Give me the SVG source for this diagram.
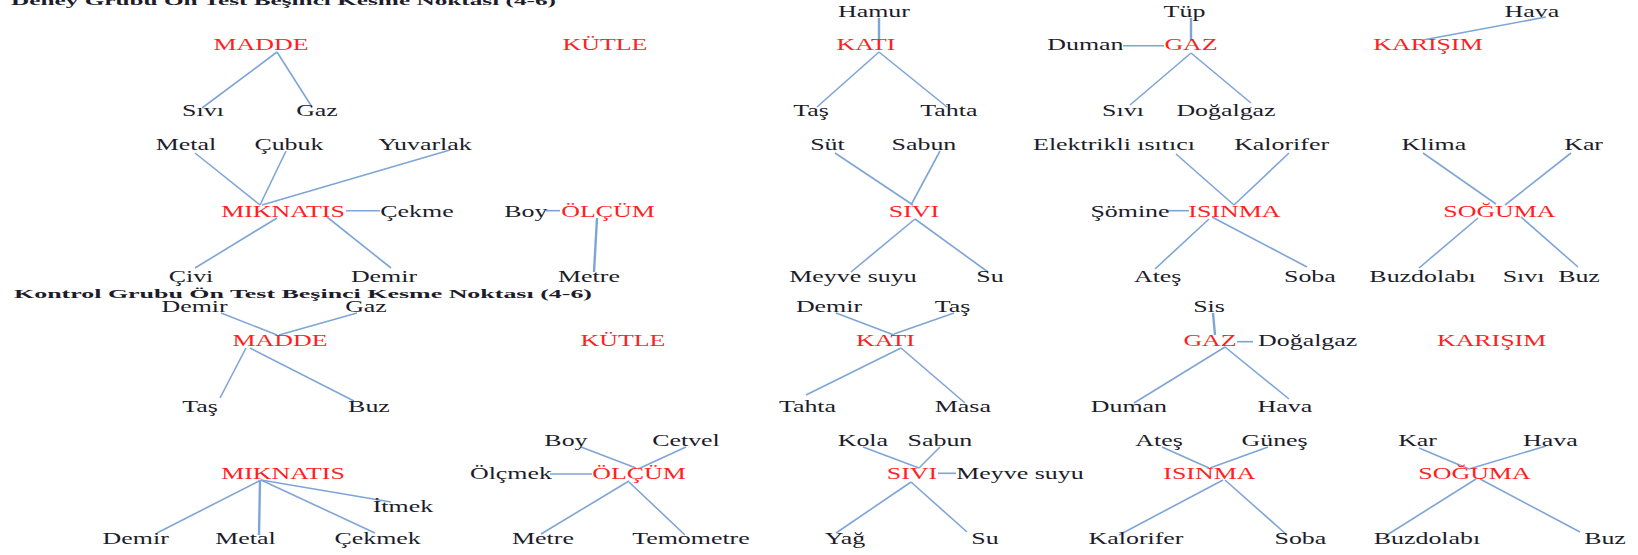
<svg xmlns="http://www.w3.org/2000/svg" width="1638" height="555" viewBox="0 0 1638 555">
  <style>
    text { font-family: "Liberation Serif", "Times New Roman", serif; font-size: 16px; text-anchor: middle; transform-box: fill-box; transform-origin: center; transform: scaleX(1.62); }
    .c { fill: #ff1f1f; }
    .t { fill: #1c1c2a; }
    .h { font-weight: bold; font-size: 12.8px; text-anchor: start; transform: none; fill: #1c1c2a; }
    #links line { stroke: #7ea5d6; stroke-width: 1.6; fill: none; }
    #links line.v { stroke-width: 2.4; }
  </style>
  <rect width="1638" height="555" fill="#ffffff"/>

  <!-- headings -->
  <g id="heading-deney"><text class="h" x="11" y="4.5" textLength="545" lengthAdjust="spacingAndGlyphs">Deney Grubu Ön Test Beşinci Kesme Noktası (4-6)</text></g>
  <g id="heading-kontrol"><text class="h" x="14" y="297.5" textLength="578" lengthAdjust="spacingAndGlyphs">Kontrol Grubu Ön Test Beşinci Kesme Noktası (4-6)</text></g>

  <g id="links">
    <!-- Deney: MADDE -->
    <line x1="277" y1="52" x2="202" y2="108"/>
    <line x1="277" y1="52" x2="312" y2="107"/>
    <!-- Deney: KATI -->
    <line class="v" x1="879" y1="18" x2="879" y2="41"/>
    <line x1="879" y1="52" x2="817" y2="107"/>
    <line x1="879" y1="52" x2="947" y2="107"/>
    <!-- Deney: GAZ -->
    <line x1="1123" y1="45.7" x2="1164" y2="45.7"/>
    <line class="v" x1="1191" y1="18" x2="1191" y2="41"/>
    <line x1="1191" y1="53" x2="1130" y2="105"/>
    <line x1="1191" y1="53" x2="1251" y2="103"/>
    <!-- Deney: KARIŞIM -->
    <line x1="1423" y1="40" x2="1546" y2="17"/>
    <!-- Deney: MIKNATIS -->
    <line x1="260" y1="205" x2="195" y2="153"/>
    <line x1="260" y1="205" x2="286" y2="151"/>
    <line x1="262" y1="205" x2="450" y2="150"/>
    <line x1="346" y1="210.7" x2="380" y2="210.7"/>
    <line x1="277" y1="218" x2="195" y2="268"/>
    <line x1="327" y1="217" x2="391" y2="268"/>
    <!-- Deney: ÖLÇÜM -->
    <line x1="546" y1="210.7" x2="560" y2="210.7"/>
    <line class="v" x1="597" y1="218" x2="594" y2="272"/>
    <!-- Deney: SIVI -->
    <line x1="913" y1="205" x2="835" y2="153"/>
    <line x1="911" y1="205" x2="940" y2="151"/>
    <line x1="915" y1="219" x2="851" y2="272"/>
    <line x1="915" y1="219" x2="988" y2="272"/>
    <!-- Deney: ISINMA -->
    <line x1="1234" y1="205" x2="1176" y2="154"/>
    <line x1="1234" y1="205" x2="1289" y2="153"/>
    <line x1="1166" y1="210.7" x2="1189" y2="210.7"/>
    <line x1="1209" y1="219" x2="1155" y2="269"/>
    <line x1="1212" y1="217" x2="1307" y2="267"/>
    <!-- Deney: SOĞUMA -->
    <line x1="1496" y1="204" x2="1423" y2="153"/>
    <line x1="1505" y1="205" x2="1571" y2="153"/>
    <line x1="1478" y1="218" x2="1419" y2="268"/>
    <line x1="1521" y1="217" x2="1578" y2="267"/>

    <!-- Kontrol: MADDE -->
    <line x1="277" y1="335" x2="221" y2="313"/>
    <line x1="279" y1="335" x2="357" y2="313"/>
    <line x1="246" y1="348" x2="220" y2="398"/>
    <line x1="250" y1="348" x2="354" y2="401"/>
    <!-- Kontrol: KATI -->
    <line x1="894" y1="335" x2="836" y2="313"/>
    <line x1="894" y1="334" x2="954" y2="313"/>
    <line x1="901" y1="348" x2="806" y2="395"/>
    <line x1="901" y1="348" x2="965" y2="403"/>
    <!-- Kontrol: GAZ -->
    <line class="v" x1="1213" y1="313" x2="1215" y2="335"/>
    <line x1="1237" y1="341.7" x2="1253" y2="341.7"/>
    <line x1="1225" y1="347" x2="1134" y2="403"/>
    <line x1="1225" y1="347" x2="1289" y2="399"/>
    <!-- Kontrol: MIKNATIS -->
    <line x1="261" y1="480" x2="157" y2="533"/>
    <line class="v" x1="260" y1="480" x2="259" y2="535"/>
    <line x1="261" y1="480" x2="375" y2="533"/>
    <line x1="261" y1="480" x2="391" y2="502"/>
    <!-- Kontrol: ÖLÇÜM -->
    <line x1="550" y1="474" x2="592" y2="474"/>
    <line x1="636" y1="468" x2="581" y2="447"/>
    <line x1="638" y1="469" x2="686" y2="447"/>
    <line x1="629" y1="481" x2="541" y2="534"/>
    <line x1="629" y1="482" x2="685" y2="535"/>
    <!-- Kontrol: SIVI -->
    <line x1="919" y1="468" x2="863" y2="447"/>
    <line x1="919" y1="468" x2="940" y2="447"/>
    <line x1="938" y1="473.3" x2="956" y2="473.3"/>
    <line x1="911" y1="482" x2="836" y2="533"/>
    <line x1="911" y1="482" x2="967" y2="532"/>
    <!-- Kontrol: ISINMA -->
    <line x1="1209" y1="468" x2="1162" y2="447"/>
    <line x1="1210" y1="468" x2="1268" y2="447"/>
    <line x1="1223" y1="480" x2="1119" y2="535"/>
    <line x1="1225" y1="480" x2="1287" y2="535"/>
    <!-- Kontrol: SOĞUMA -->
    <line x1="1469" y1="469" x2="1419" y2="448"/>
    <line x1="1469" y1="469" x2="1546" y2="446"/>
    <line x1="1476" y1="479" x2="1387" y2="535"/>
    <line x1="1480" y1="479" x2="1580" y2="532"/>
  </g>

  <!-- Deney group nodes -->
  <g id="d-madde"><text class="c" x="261" y="50.5">MADDE</text></g>
  <g id="d-madde-sivi"><text class="t" x="203" y="116">Sıvı</text></g>
  <g id="d-madde-gaz"><text class="t" x="317" y="116">Gaz</text></g>

  <g id="d-kutle"><text class="c" x="605" y="50.5">KÜTLE</text></g>

  <g id="d-kati"><text class="c" x="866" y="50.5">KATI</text></g>
  <g id="d-kati-hamur"><text class="t" x="874" y="17.3">Hamur</text></g>
  <g id="d-kati-tas"><text class="t" x="811" y="116">Taş</text></g>
  <g id="d-kati-tahta"><text class="t" x="949" y="116">Tahta</text></g>

  <g id="d-gaz"><text class="c" x="1191" y="50.5">GAZ</text></g>
  <g id="d-gaz-tup"><text class="t" x="1184.5" y="17.3">Tüp</text></g>
  <g id="d-gaz-duman"><text class="t" x="1085.5" y="50.5">Duman</text></g>
  <g id="d-gaz-sivi"><text class="t" x="1123" y="116">Sıvı</text></g>
  <g id="d-gaz-dogalgaz"><text class="t" x="1226" y="116">Doğalgaz</text></g>

  <g id="d-karisim"><text class="c" x="1428" y="50.5">KARIŞIM</text></g>
  <g id="d-karisim-hava"><text class="t" x="1532" y="17.3">Hava</text></g>

  <g id="d-miknatis"><text class="c" x="283" y="216.7">MIKNATIS</text></g>
  <g id="d-miknatis-metal"><text class="t" x="186" y="150">Metal</text></g>
  <g id="d-miknatis-cubuk"><text class="t" x="289" y="150">Çubuk</text></g>
  <g id="d-miknatis-yuvarlak"><text class="t" x="425" y="150">Yuvarlak</text></g>
  <g id="d-miknatis-cekme"><text class="t" x="417" y="216.7">Çekme</text></g>
  <g id="d-miknatis-civi"><text class="t" x="191" y="282">Çivi</text></g>
  <g id="d-miknatis-demir"><text class="t" x="384" y="282">Demir</text></g>

  <g id="d-olcum"><text class="c" x="608" y="216.7">ÖLÇÜM</text></g>
  <g id="d-olcum-boy"><text class="t" x="526" y="216.7">Boy</text></g>
  <g id="d-olcum-metre"><text class="t" x="589" y="282">Metre</text></g>

  <g id="d-sivi"><text class="c" x="914" y="216.7">SIVI</text></g>
  <g id="d-sivi-sut"><text class="t" x="827.5" y="150">Süt</text></g>
  <g id="d-sivi-sabun"><text class="t" x="924" y="150">Sabun</text></g>
  <g id="d-sivi-meyve"><text class="t" x="853" y="282">Meyve suyu</text></g>
  <g id="d-sivi-su"><text class="t" x="990" y="282">Su</text></g>

  <g id="d-isinma"><text class="c" x="1234.5" y="216.7">ISINMA</text></g>
  <g id="d-isinma-elektrikli"><text class="t" x="1114" y="150">Elektrikli ısıtıcı</text></g>
  <g id="d-isinma-kalorifer"><text class="t" x="1281.6" y="150">Kalorifer</text></g>
  <g id="d-isinma-somine"><text class="t" x="1130" y="216.7">Şömine</text></g>
  <g id="d-isinma-ates"><text class="t" x="1157.7" y="282">Ateş</text></g>
  <g id="d-isinma-soba"><text class="t" x="1310" y="282">Soba</text></g>

  <g id="d-soguma"><text class="c" x="1499.5" y="216.7">SOĞUMA</text></g>
  <g id="d-soguma-klima"><text class="t" x="1434" y="150">Klima</text></g>
  <g id="d-soguma-kar"><text class="t" x="1583.6" y="150">Kar</text></g>
  <g id="d-soguma-buzdolabi"><text class="t" x="1422.6" y="282">Buzdolabı</text></g>
  <g id="d-soguma-sivi"><text class="t" x="1523.6" y="282">Sıvı</text></g>
  <g id="d-soguma-buz"><text class="t" x="1579" y="282">Buz</text></g>

  <!-- Kontrol group nodes -->
  <g id="k-madde"><text class="c" x="280" y="345.7">MADDE</text></g>
  <g id="k-madde-demir"><text class="t" x="194.6" y="312.3">Demir</text></g>
  <g id="k-madde-gaz"><text class="t" x="366" y="312.3">Gaz</text></g>
  <g id="k-madde-tas"><text class="t" x="200" y="411.7">Taş</text></g>
  <g id="k-madde-buz"><text class="t" x="369" y="411.7">Buz</text></g>

  <g id="k-kutle"><text class="c" x="623" y="345.7">KÜTLE</text></g>

  <g id="k-kati"><text class="c" x="885.5" y="345.7">KATI</text></g>
  <g id="k-kati-demir"><text class="t" x="829" y="312.3">Demir</text></g>
  <g id="k-kati-tas"><text class="t" x="952.5" y="312.3">Taş</text></g>
  <g id="k-kati-tahta"><text class="t" x="807.6" y="411.7">Tahta</text></g>
  <g id="k-kati-masa"><text class="t" x="963" y="411.7">Masa</text></g>

  <g id="k-gaz"><text class="c" x="1210" y="345.7">GAZ</text></g>
  <g id="k-gaz-sis"><text class="t" x="1209" y="312.3">Sis</text></g>
  <g id="k-gaz-dogalgaz"><text class="t" x="1307.7" y="345.7">Doğalgaz</text></g>
  <g id="k-gaz-duman"><text class="t" x="1129" y="411.7">Duman</text></g>
  <g id="k-gaz-hava"><text class="t" x="1285" y="411.7">Hava</text></g>

  <g id="k-karisim"><text class="c" x="1491.6" y="345.7">KARIŞIM</text></g>

  <g id="k-miknatis"><text class="c" x="283" y="479.3">MIKNATIS</text></g>
  <g id="k-miknatis-itmek"><text class="t" x="403" y="511.7">İtmek</text></g>
  <g id="k-miknatis-demir"><text class="t" x="135.7" y="544">Demir</text></g>
  <g id="k-miknatis-metal"><text class="t" x="245.5" y="544">Metal</text></g>
  <g id="k-miknatis-cekmek"><text class="t" x="377.7" y="544">Çekmek</text></g>

  <g id="k-olcum"><text class="c" x="639" y="479.3">ÖLÇÜM</text></g>
  <g id="k-olcum-olcmek"><text class="t" x="511" y="479.3">Ölçmek</text></g>
  <g id="k-olcum-boy"><text class="t" x="566" y="446">Boy</text></g>
  <g id="k-olcum-cetvel"><text class="t" x="686" y="446">Cetvel</text></g>
  <g id="k-olcum-metre"><text class="t" x="543" y="544">Metre</text></g>
  <g id="k-olcum-temometre"><text class="t" x="691" y="544">Temometre</text></g>

  <g id="k-sivi"><text class="c" x="912" y="479.3">SIVI</text></g>
  <g id="k-sivi-kola"><text class="t" x="863" y="446">Kola</text></g>
  <g id="k-sivi-sabun"><text class="t" x="940" y="446">Sabun</text></g>
  <g id="k-sivi-meyve"><text class="t" x="1020" y="479.3">Meyve suyu</text></g>
  <g id="k-sivi-yag"><text class="t" x="845" y="544">Yağ</text></g>
  <g id="k-sivi-su"><text class="t" x="985" y="544">Su</text></g>

  <g id="k-isinma"><text class="c" x="1209.5" y="479.3">ISINMA</text></g>
  <g id="k-isinma-ates"><text class="t" x="1159" y="446">Ateş</text></g>
  <g id="k-isinma-gunes"><text class="t" x="1274.6" y="446">Güneş</text></g>
  <g id="k-isinma-kalorifer"><text class="t" x="1136" y="544">Kalorifer</text></g>
  <g id="k-isinma-soba"><text class="t" x="1300.5" y="544">Soba</text></g>

  <g id="k-soguma"><text class="c" x="1474.6" y="479.3">SOĞUMA</text></g>
  <g id="k-soguma-kar"><text class="t" x="1417.6" y="446">Kar</text></g>
  <g id="k-soguma-hava"><text class="t" x="1550.5" y="446">Hava</text></g>
  <g id="k-soguma-buzdolabi"><text class="t" x="1427" y="544">Buzdolabı</text></g>
  <g id="k-soguma-buz"><text class="t" x="1605" y="544">Buz</text></g>
</svg>
